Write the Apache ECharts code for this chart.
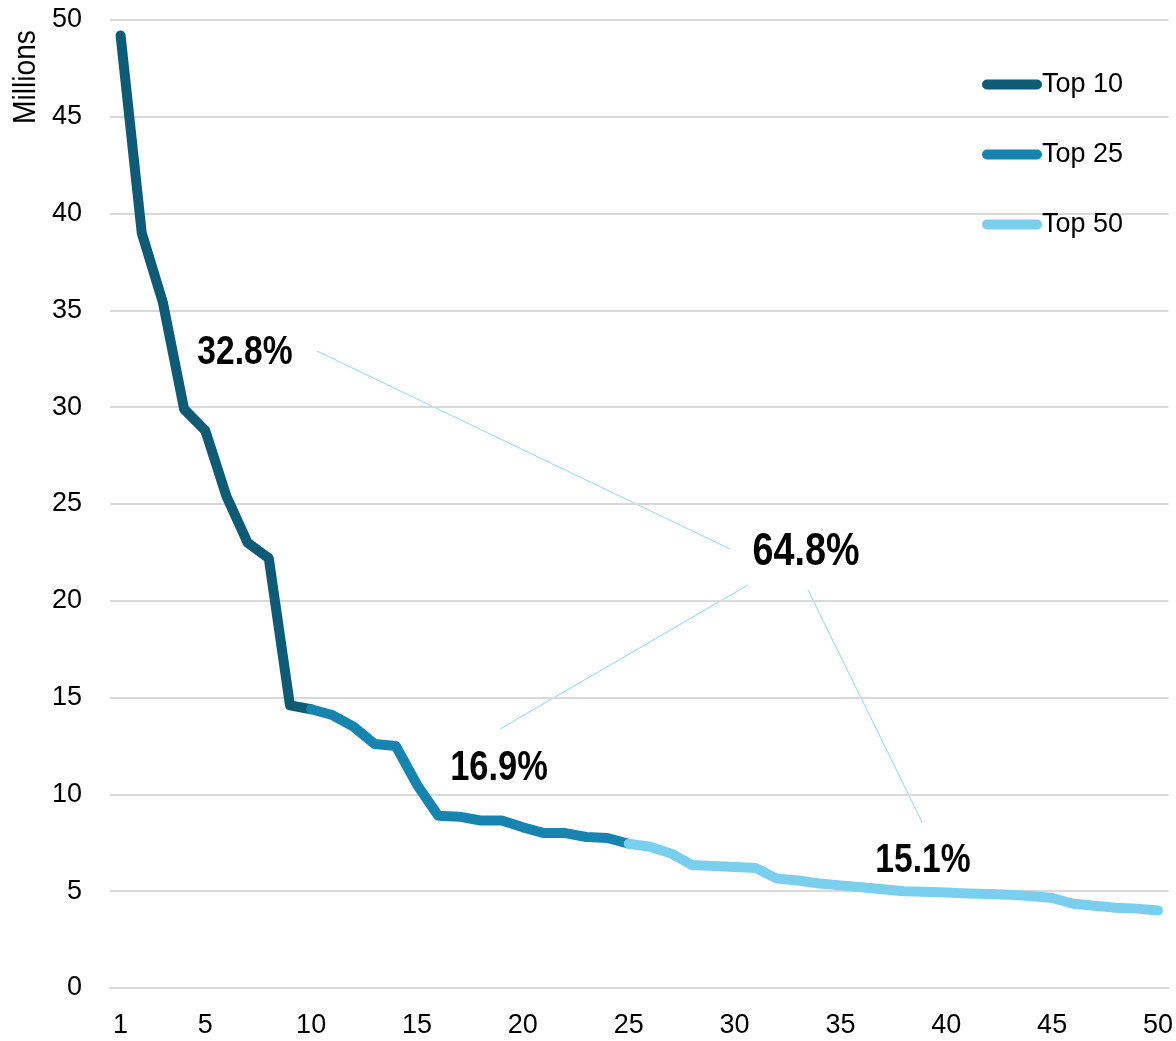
<!DOCTYPE html>
<html>
<head>
<meta charset="utf-8">
<script src="https://cdn.jsdelivr.net/npm/echarts@6/dist/echarts.min.js"></script>
<style>
html,body{margin:0;padding:0;background:#fff;}
#chart{width:1176px;height:1041px;}
</style>
</head>
<body>
<div id="chart"></div>
<script>
const ranks = ['1','2','3','4','5','6','7','8','9','10','11','12','13','14','15','16','17','18','19','20','21','22','23','24','25','26','27','28','29','30','31','32','33','34','35','36','37','38','39','40','41','42','43','44','45','46','47','48','49','50'];
// Top 10: ranks 1-10
const top10Values = [49.2, 39.0, 35.4, 29.9, 28.8, 25.4, 23.0, 22.2, 14.6, 14.4];
// Top 25: ranks 10-25
const top25Values = [14.4, 14.1, 13.5, 12.6, 12.5, 10.5, 8.9, 8.85, 8.65, 8.65, 8.3, 8.0, 8.0, 7.8, 7.75, 7.45];
// Top 50: ranks 25-50
const top50Values = [7.45, 7.3, 6.95, 6.35, 6.3, 6.25, 6.2, 5.65, 5.55, 5.4, 5.3, 5.2, 5.1, 5.0, 4.97, 4.93, 4.88, 4.85, 4.82, 4.75, 4.65, 4.35, 4.25, 4.15, 4.1, 4.0];
const seriesNames = ['Top 10', 'Top 25', 'Top 50'];
const shareLabels = ['32.8%', '64.8%', '16.9%', '15.1%'];

const FONT = "'Liberation Sans',Arial,sans-serif";
const colors = ['#0f5a74', '#1784b0', '#7acfef'];

function place(values, startIndex) {
  const arr = ranks.map(() => null);
  values.forEach((v, i) => { arr[startIndex + i] = v; });
  return arr;
}
const seriesData = [place(top10Values, 0), place(top25Values, 9), place(top50Values, 24)];

const pill = 'path://M5,0 L55,0 A5,5 0 0 1 55,10 L5,10 A5,5 0 0 1 5,0 Z';

const chart = echarts.init(document.getElementById('chart'), null, {renderer: 'canvas'});
const option = {
  animation: false,
  backgroundColor: '#ffffff',
  grid: {left: 110, right: 6, top: 20, bottom: 53, containLabel: false},
  legend: {
    orient: 'vertical',
    left: 977,
    top: 66,
    itemWidth: 62,
    itemHeight: 10,
    itemGap: 43,
    icon: pill,
    data: seriesNames,
    textStyle: {fontFamily: FONT, fontSize: 27, color: '#000', padding: [0, 0, 0, -6]}
  },
  xAxis: {
    type: 'category',
    data: ranks,
    boundaryGap: true,
    axisLine: {show: true, lineStyle: {color: '#d9d9d9', width: 2}},
    axisTick: {show: false},
    axisLabel: {
      interval: (idx) => idx === 0 || (idx + 1) % 5 === 0,
      fontFamily: FONT, fontSize: 27, color: '#000', margin: 24
    },
    splitLine: {show: false}
  },
  yAxis: {
    type: 'value',
    min: 0, max: 50, interval: 5,
    axisLine: {show: false},
    axisTick: {show: false},
    axisLabel: {fontFamily: FONT, fontSize: 27, color: '#000', margin: 28},
    splitLine: {show: true, lineStyle: {color: '#d9d9d9', width: 2}}
  },
  series: seriesNames.map((name, i) => ({
    name: name,
    type: 'line',
    data: seriesData[i],
    showSymbol: false,
    symbol: 'none',
    connectNulls: false,
    color: colors[i],
    lineStyle: {width: 10, color: colors[i], cap: 'round', join: 'round'},
    z: 2 + i
  })),
  graphic: [
    {type: 'text', x: 26, y: 77, rotation: Math.PI / 2, scaleX: 0.88, style: {text: 'Millions', font: '32px ' + FONT, fill: '#000', align: 'center', verticalAlign: 'middle'}},
    {type: 'line', shape: {x1: 317, y1: 351, x2: 730, y2: 549}, style: {stroke: '#a6dcf2', lineWidth: 1.2}},
    {type: 'line', shape: {x1: 748, y1: 585, x2: 500, y2: 729}, style: {stroke: '#a6dcf2', lineWidth: 1.2}},
    {type: 'line', shape: {x1: 808, y1: 590, x2: 922, y2: 822}, style: {stroke: '#a6dcf2', lineWidth: 1.2}},
    {type: 'text', x: 245, y: 353, scaleX: 0.82, style: {text: shareLabels[0], font: 'bold 41px ' + FONT, fill: '#000', align: 'center', verticalAlign: 'middle'}},
    {type: 'text', x: 806, y: 552, scaleX: 0.82, style: {text: shareLabels[1], font: 'bold 46px ' + FONT, fill: '#000', align: 'center', verticalAlign: 'middle'}},
    {type: 'text', x: 499, y: 768, scaleX: 0.82, style: {text: shareLabels[2], font: 'bold 42px ' + FONT, fill: '#000', align: 'center', verticalAlign: 'middle'}},
    {type: 'text', x: 923, y: 861, scaleX: 0.82, style: {text: shareLabels[3], font: 'bold 41px ' + FONT, fill: '#000', align: 'center', verticalAlign: 'middle'}}
  ]
};
chart.setOption(option);
</script>
</body>
</html>
